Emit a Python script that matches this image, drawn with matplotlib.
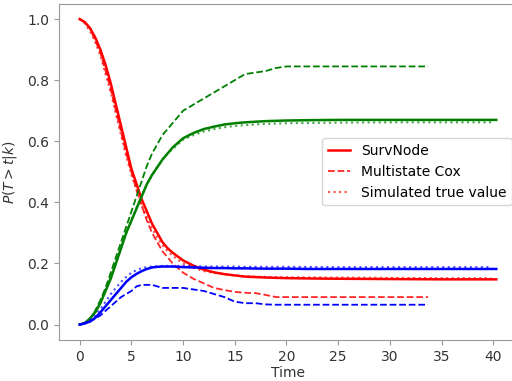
import matplotlib
matplotlib.use('Agg')
from matplotlib import pyplot as plt

# SurvNode (solid)
t_node = [0, 0.5, 1, 1.5, 2, 2.5, 3, 3.5, 4, 4.5, 5, 5.5, 6, 6.5, 7, 7.5, 8, 8.5, 9, 10, 11, 12, 13, 14, 15, 16, 18, 20, 22, 25, 30, 35, 40.3]
red_node = [1.0, 0.99, 0.97, 0.94, 0.90, 0.85, 0.79, 0.72, 0.65, 0.58, 0.51, 0.46, 0.41, 0.37, 0.33, 0.30, 0.27, 0.25, 0.235, 0.21, 0.193, 0.18, 0.171, 0.165, 0.161, 0.157, 0.154, 0.152, 0.151, 0.15, 0.149, 0.148, 0.148]
green_node = [0.0, 0.005, 0.02, 0.04, 0.07, 0.11, 0.15, 0.20, 0.25, 0.30, 0.34, 0.38, 0.42, 0.46, 0.49, 0.515, 0.54, 0.56, 0.58, 0.61, 0.627, 0.64, 0.648, 0.655, 0.659, 0.662, 0.666, 0.668, 0.669, 0.67, 0.67, 0.67, 0.67]
blue_node = [0.0, 0.004, 0.01, 0.022, 0.04, 0.06, 0.08, 0.10, 0.12, 0.14, 0.155, 0.166, 0.175, 0.182, 0.187, 0.189, 0.19, 0.19, 0.19, 0.188, 0.187, 0.186, 0.185, 0.185, 0.184, 0.184, 0.183, 0.183, 0.182, 0.182, 0.182, 0.182, 0.182]

# Multistate Cox (dashed)
t_cox = [0, 0.5, 1, 1.5, 2, 2.5, 3, 3.5, 4, 4.5, 5, 5.5, 6, 6.5, 7, 7.5, 8, 9, 10, 11, 12, 13, 14, 15, 16, 17, 18, 19, 20, 25, 30, 33.7]
red_cox = [1.0, 0.99, 0.97, 0.93, 0.89, 0.83, 0.77, 0.70, 0.63, 0.56, 0.50, 0.44, 0.39, 0.34, 0.30, 0.27, 0.24, 0.20, 0.17, 0.15, 0.135, 0.12, 0.113, 0.107, 0.104, 0.103, 0.097, 0.09, 0.09, 0.09, 0.09, 0.09]
green_cox = [0.0, 0.005, 0.02, 0.045, 0.08, 0.12, 0.17, 0.22, 0.27, 0.32, 0.37, 0.42, 0.47, 0.52, 0.56, 0.59, 0.62, 0.66, 0.70, 0.72, 0.74, 0.76, 0.78, 0.80, 0.82, 0.825, 0.83, 0.84, 0.845, 0.845, 0.845, 0.845]
blue_cox = [0.0, 0.004, 0.01, 0.02, 0.03, 0.045, 0.06, 0.075, 0.09, 0.10, 0.11, 0.125, 0.13, 0.13, 0.13, 0.125, 0.12, 0.12, 0.12, 0.115, 0.11, 0.10, 0.09, 0.075, 0.07, 0.07, 0.066, 0.065, 0.065, 0.065, 0.065, 0.065]

# Simulated true value (dotted)
t_sim = [0, 0.5, 1, 1.5, 2, 2.5, 3, 3.5, 4, 4.5, 5, 5.5, 6, 6.5, 7, 7.5, 8, 8.5, 9, 10, 11, 12, 13, 14, 15, 16, 18, 20, 25, 30, 35, 39.8]
red_sim = [1.0, 0.985, 0.96, 0.925, 0.88, 0.82, 0.76, 0.69, 0.62, 0.55, 0.49, 0.44, 0.39, 0.35, 0.315, 0.285, 0.26, 0.24, 0.225, 0.20, 0.186, 0.175, 0.169, 0.165, 0.161, 0.158, 0.156, 0.155, 0.154, 0.153, 0.152, 0.152]
green_sim = [0.0, 0.005, 0.02, 0.045, 0.075, 0.115, 0.155, 0.20, 0.25, 0.30, 0.34, 0.385, 0.42, 0.46, 0.49, 0.515, 0.54, 0.56, 0.575, 0.605, 0.62, 0.632, 0.64, 0.646, 0.65, 0.653, 0.657, 0.659, 0.661, 0.662, 0.662, 0.662]
blue_sim = [0.0, 0.006, 0.015, 0.03, 0.05, 0.075, 0.10, 0.12, 0.14, 0.156, 0.17, 0.178, 0.185, 0.188, 0.19, 0.191, 0.192, 0.192, 0.192, 0.192, 0.191, 0.19, 0.19, 0.19, 0.19, 0.189, 0.189, 0.189, 0.188, 0.188, 0.188, 0.188]

plt.figure(figsize=(5.12, 3.81), dpi=100)
ax = plt.axes([0.115, 0.108, 0.895, 0.882])

ax.plot(t_node, red_node, color='red', lw=1.8, label='SurvNode')
ax.plot(t_cox, red_cox, color='red', lw=1.3, ls='--', alpha=0.85, label='Multistate Cox')
ax.plot(t_sim, red_sim, color='red', lw=1.5, ls=':', alpha=0.7, label='Simulated true value')

ax.plot(t_node, green_node, color='green', lw=1.8)
ax.plot(t_cox, green_cox, color='green', lw=1.3, ls='--')
ax.plot(t_sim, green_sim, color='green', lw=1.5, ls=':', alpha=0.7)

ax.plot(t_node, blue_node, color='blue', lw=1.8)
ax.plot(t_cox, blue_cox, color='blue', lw=1.3, ls='--')
ax.plot(t_sim, blue_sim, color='blue', lw=1.5, ls=':', alpha=0.7)

ax.set_xticks([0, 5, 10, 15, 20, 25, 30, 35, 40])
ax.set_yticks([0.0, 0.2, 0.4, 0.6, 0.8, 1.0])
ax.set_xlabel('Time', color='#333333', labelpad=2)
ax.set_ylabel(r'$P(T > t|k)$', color='#333333', labelpad=6)
for s in ax.spines.values():
    s.set_color('#999999')
ax.tick_params(colors='#999999', labelcolor='#333333')
ax.legend(loc='center right', fontsize=10, bbox_to_anchor=(0.995, 0.5),
          handlelength=1.6, borderaxespad=0.2)

plt.savefig('out.png', dpi=100)
